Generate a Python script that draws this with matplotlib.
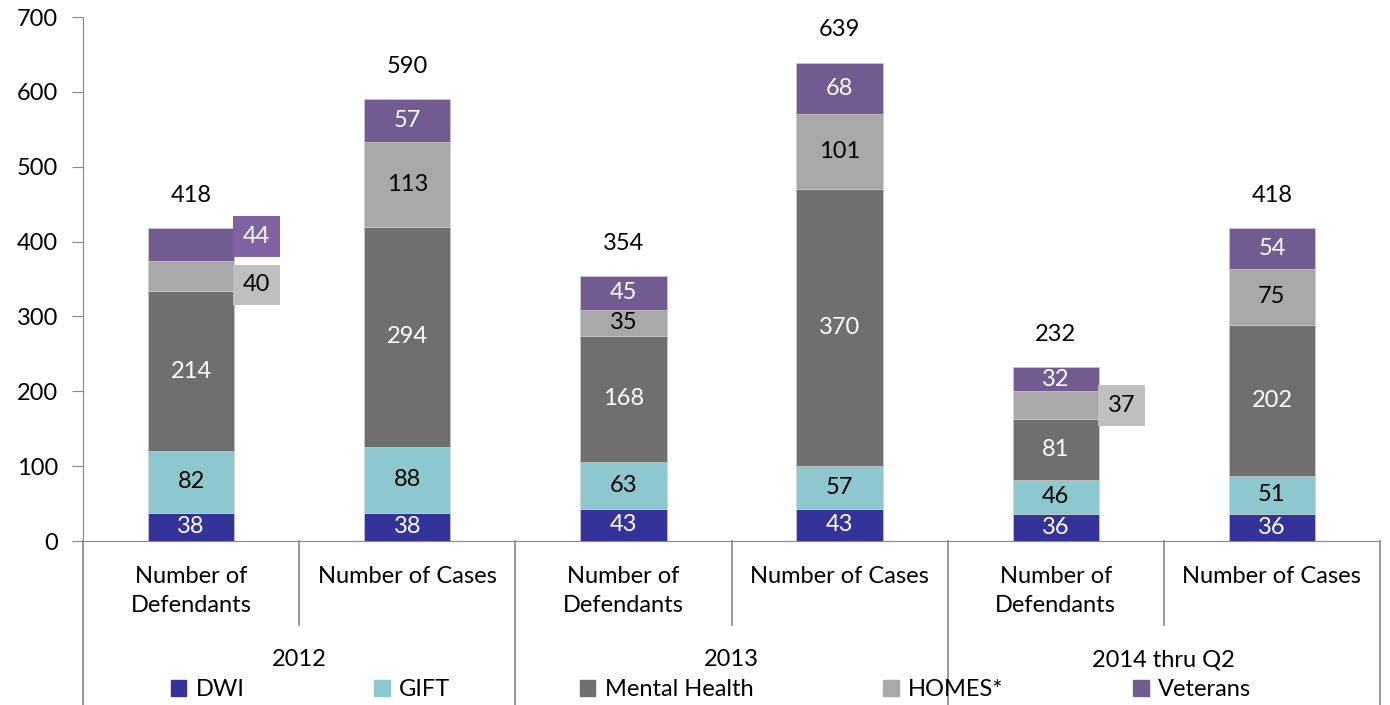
import numpy as np
import matplotlib
matplotlib.use("Agg")
import matplotlib.pyplot as plt
from matplotlib.patches import Patch
from matplotlib.transforms import blended_transform_factory

plt.rcParams['font.family'] = ['Lato', 'DejaVu Sans']

sub_labels = ["Number of\nDefendants", "Number of Cases"] * 3
groups = ["2012", "2013", "2014 thru Q2"]
series = ["DWI", "GIFT", "Mental Health", "HOMES*", "Veterans"]
dwi = [38, 38, 43, 43, 36, 36]
gift = [82, 88, 63, 57, 46, 51]
mental = [214, 294, 168, 370, 81, 202]
homes = [40, 113, 35, 101, 37, 75]
veterans = [44, 57, 45, 68, 32, 54]

colors = ["#333399", "#8CC8CE", "#6F6F6F", "#A8A8A8", "#725B91"]
box_colors = {3: "#BFBFBF", 4: "#8064A2"}
text_colors = ["white", "black", "white", "black", "white"]
# segments whose label sits beside the bar: (bar, series) -> nudge in data units
side_labels = {(0, 4): 11, (0, 3): -12, (4, 3): 0}

values = np.array([dwi, gift, mental, homes, veterans])
x = np.arange(len(dwi))
width = 0.4
fs = 17

fig = plt.figure(figsize=(13.9, 7.05), dpi=100)
ax = fig.add_axes([83 / 1390, 164 / 705, 1297 / 1390, 524 / 705])

bottom = np.zeros(len(dwi))
for i, name in enumerate(series):
    ax.bar(x, values[i], width, bottom=bottom, color=colors[i], label=name,
           edgecolor="#d0d0d0", linewidth=0.4)
    for j in range(len(x)):
        mid = bottom[j] + values[i][j] / 2
        if (j, i) in side_labels:
            ax.text(x[j] + width / 2 + 0.04, mid + side_labels[(j, i)], str(values[i][j]),
                    ha="left", va="center", fontsize=fs, color=text_colors[i],
                    bbox=dict(boxstyle="square,pad=0.42", fc=box_colors[i], ec="none"))
        else:
            ax.text(x[j], mid, str(values[i][j]), ha="center", va="center",
                    fontsize=fs, color=text_colors[i])
    bottom += values[i]

for j in range(len(x)):
    ax.text(x[j], bottom[j] + 44, str(int(bottom[j])), ha="center", va="center", fontsize=fs)

ax.set_xlim(-0.5, len(x) - 0.5)
ax.set_ylim(0, 700)
ax.set_yticks(range(0, 701, 100))
ax.tick_params(axis="y", labelsize=fs, length=8, color="#868686", pad=10)
ax.set_xticks([])
for s in ["top", "right"]:
    ax.spines[s].set_visible(False)
for s in ["left", "bottom"]:
    ax.spines[s].set_color("#868686")

# two-level category axis
trans = blended_transform_factory(ax.transData, ax.transAxes)
for k in range(len(x) + 1):
    xe = k - 0.5
    low = -0.16 if k % 2 == 1 else -0.32
    ax.plot([xe, xe], [0, low], transform=trans, color="#868686", lw=1.2, clip_on=False)
for j, lab in enumerate(sub_labels):
    ax.text(x[j], -0.095 if "\n" in lab else -0.067, lab, transform=trans,
            ha="center", va="center", fontsize=fs, linespacing=1.45)
for g, name in enumerate(groups):
    ax.text(2 * g + 0.5, -0.227, name, transform=trans, ha="center", va="center", fontsize=fs)

handles = [Patch(color=c) for c in colors]
fig.legend(handles, series, loc="center", bbox_to_anchor=(711 / 1390, 15 / 705), ncol=5,
           frameon=False, fontsize=fs, handlelength=0.65, handleheight=0.65,
           handletextpad=0.4, columnspacing=5.5)

fig.savefig("out.png", dpi=100)
